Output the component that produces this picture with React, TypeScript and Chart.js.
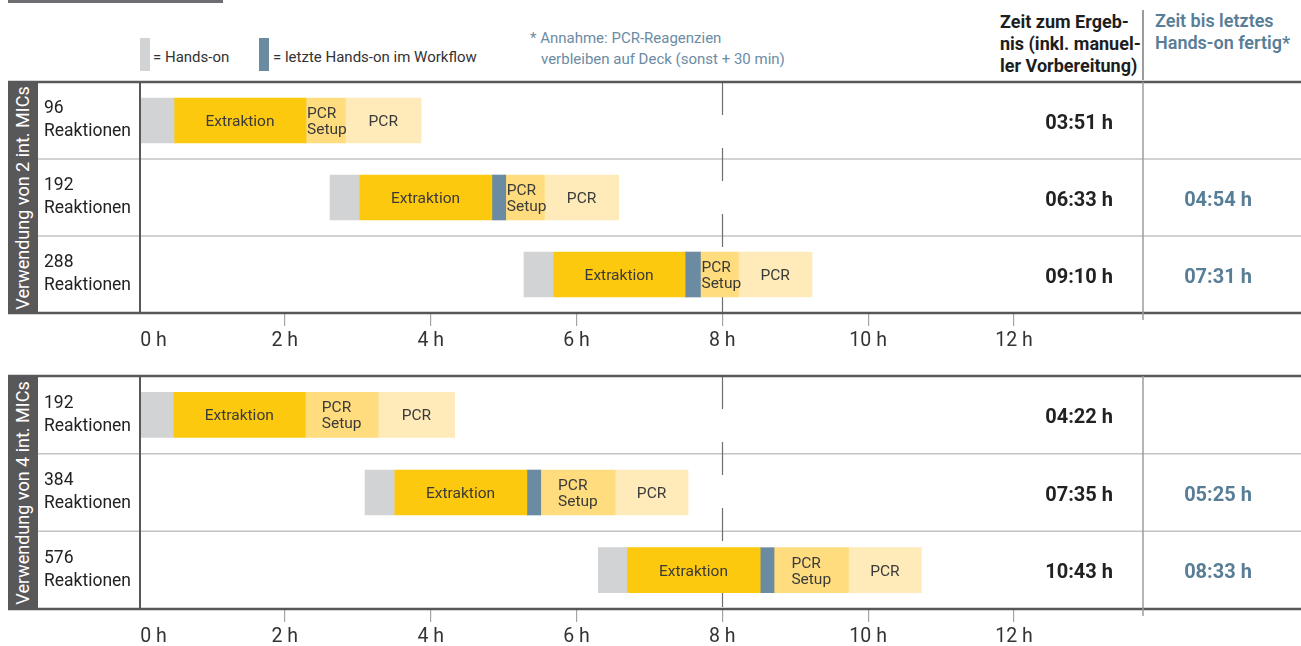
import React, { useEffect, useRef } from 'react';
import { Chart, registerables } from 'chart.js';

Chart.register(...registerables);

const FONT = 'Roboto, "Noto Sans", "DejaVu Sans", sans-serif';

// ---------- data ----------
const xTickLabels = ['      0 h', '2 h', '4 h', '6 h', '8 h', '10 h', '12 h'];
const markerHour = 8;
const xMaxHours = 13.77;

const segmentNames = ['Hands-on', 'Extraktion', 'letzte Hands-on im Workflow', 'PCR Setup', 'PCR'];
const segmentTexts = [[], ['Extraktion'], [], ['PCR', 'Setup'], ['PCR']];
const segmentColors = ['#d1d3d4', '#fdc90e', '#6b8ba3', '#ffdc7e', '#ffebba'];

// Panel 1: 2 int. MICs
const rows2 = [['96', 'Reaktionen'], ['192', 'Reaktionen'], ['288', 'Reaktionen']];
const handsOn2 = [[0, 0.48], [2.62, 3.02], [5.28, 5.68]];
const extraktion2 = [[0.48, 2.29], [3.02, 4.84], [5.68, 7.49]];
const lastHandsOn2 = [null, [4.84, 5.03], [7.49, 7.7]];
const pcrSetup2 = [[2.29, 2.83], [5.03, 5.56], [7.7, 8.22]];
const pcr2 = [[2.83, 3.87], [5.56, 6.58], [8.22, 9.23]];
const result2 = ['03:51 h', '06:33 h', '09:10 h'];
const lastDone2 = ['', '04:54 h', '07:31 h'];

// Panel 2: 4 int. MICs
const rows4 = [['192', 'Reaktionen'], ['384', 'Reaktionen'], ['576', 'Reaktionen']];
const handsOn4 = [[0, 0.47], [3.1, 3.5], [6.3, 6.69]];
const extraktion4 = [[0.47, 2.28], [3.5, 5.32], [6.69, 8.52]];
const lastHandsOn4 = [null, [5.32, 5.51], [8.52, 8.71]];
const pcrSetup4 = [[2.28, 3.28], [5.51, 6.53], [8.71, 9.73]];
const pcr4 = [[3.28, 4.33], [6.53, 7.53], [9.73, 10.73]];
const result4 = ['04:22 h', '07:35 h', '10:43 h'];
const lastDone4 = ['', '05:25 h', '08:33 h'];

// ---------- layout ----------
const CANVAS_LEFT = 8;
const CANVAS_W = 1293;
const AXIS_H = 40;
const DARK = '#58585a';
const BLUE_TEXT = '#587d96';

const framePlugin = {
  id: 'frame',
  beforeDatasetsDraw(chart: any) {
    const { ctx, chartArea: a, scales } = chart;
    const x = scales.x;
    const y = scales.y;
    const n = chart.data.labels.length;
    ctx.save();
    ctx.strokeStyle = '#c3c3c3';
    ctx.lineWidth = 1.5;
    for (let i = 1; i < n; i++) {
      const yy = (y.getPixelForValue(i - 1) + y.getPixelForValue(i)) / 2;
      ctx.beginPath();
      ctx.moveTo(30, yy);
      ctx.lineTo(chart.width, yy);
      ctx.stroke();
    }
    const mx = Math.round(x.getPixelForValue(markerHour)) + 0.5;
    ctx.strokeStyle = '#6f6f6f';
    ctx.lineWidth = 1.2;
    ctx.setLineDash([33, 33]);
    ctx.beginPath();
    ctx.moveTo(mx, a.top);
    ctx.lineTo(mx, a.bottom);
    ctx.stroke();
    ctx.restore();
  },
  afterDatasetsDraw(chart: any) {
    const { ctx, chartArea: a } = chart;
    ctx.save();
    // bar labels
    ctx.font = `15.5px ${FONT}`;
    ctx.fillStyle = '#3a3a3a';
    ctx.textBaseline = 'middle';
    ctx.textAlign = 'left';
    chart.data.datasets.forEach((ds: any, di: number) => {
      const lines = segmentTexts[di];
      if (!lines.length) return;
      const meta = chart.getDatasetMeta(di);
      meta.data.forEach((el: any, j: number) => {
        if (ds.data[j] == null) return;
        const p = el.getProps(['x', 'y', 'base'], true);
        const left = Math.min(p.x, p.base);
        const right = Math.max(p.x, p.base);
        const cx = (left + right) / 2;
        const w = Math.max(...lines.map((l: string) => ctx.measureText(l).width));
        const tx = Math.max(left + 1, cx - w / 2);
        const lh = 16;
        const y0 = p.y - ((lines.length - 1) * lh) / 2;
        lines.forEach((l: string, k: number) => ctx.fillText(l, tx, y0 + k * lh + 1.5));
      });
    });
    // borders
    ctx.strokeStyle = DARK;
    ctx.lineWidth = 2.5;
    ctx.beginPath();
    ctx.moveTo(0, a.top);
    ctx.lineTo(chart.width, a.top);
    ctx.moveTo(0, a.bottom);
    ctx.lineTo(chart.width, a.bottom);
    ctx.stroke();
    ctx.lineWidth = 2;
    ctx.beginPath();
    ctx.moveTo(a.left + 1, a.top);
    ctx.lineTo(a.left + 1, a.bottom);
    ctx.stroke();
    // column separator
    ctx.strokeStyle = '#9c9c9c';
    ctx.lineWidth = 1.5;
    ctx.beginPath();
    ctx.moveTo(a.right, a.top);
    ctx.lineTo(a.right, a.bottom + 7);
    ctx.stroke();
    ctx.restore();
  },
};

type PanelProps = {
  title: string;
  canvasTop: number;
  areaTop: number;
  areaBottom: number;
  rows: string[][];
  series: any[][];
  results: string[];
  lastDone: string[];
};

function Panel({ title, canvasTop, areaTop, areaBottom, rows, series, results, lastDone }: PanelProps) {
  const ref = useRef<HTMLCanvasElement | null>(null);
  const H = areaBottom - canvasTop + AXIS_H;

  useEffect(() => {
    if (!ref.current) return;
    const chart = new Chart(ref.current, {
      type: 'bar',
      data: {
        labels: rows,
        datasets: series.map((d, i) => ({
          label: segmentNames[i],
          data: d,
          backgroundColor: segmentColors[i],
          borderWidth: 0,
        })),
      } as any,
      options: {
        indexAxis: 'y',
        responsive: false,
        animation: false,
        layout: { padding: { left: 36, right: 158, top: areaTop - canvasTop, bottom: 0 } },
        datasets: { bar: { grouped: false, barThickness: 45 } } as any,
        plugins: { legend: { display: false }, tooltip: { enabled: false } },
        scales: {
          x: {
            type: 'linear',
            position: 'bottom',
            min: 0,
            max: xMaxHours,
            ticks: {
              stepSize: 2,
              includeBounds: false,
              autoSkip: false,
              maxRotation: 0,
              padding: 3,
              color: '#333',
              font: { family: FONT, size: 19.5 },
              callback: (v: any) => xTickLabels[Math.round(Number(v) / 2)] ?? '',
            },
            grid: {
              drawOnChartArea: false,
              drawTicks: true,
              tickLength: 13,
              lineWidth: 1.2,
              color: (c: any) => (c.tick && c.tick.value === 0 ? 'rgba(0,0,0,0)' : '#a5a5a5'),
            },
            border: { display: false },
            afterFit: (s: any) => {
              s.height = AXIS_H;
              s.paddingLeft = 0;
              s.paddingRight = 0;
            },
          },
          y: {
            type: 'category',
            offset: true,
            grid: { display: false },
            border: { display: false },
            ticks: {
              crossAlign: 'far',
              color: '#222',
              padding: 0,
              font: { family: FONT, size: 17.5, lineHeight: 1.32 },
            },
            afterFit: (s: any) => {
              s.width = 95;
              s.paddingTop = 0;
              s.paddingBottom = 0;
            },
          },
        },
      } as any,
      plugins: [framePlugin],
    });
    return () => chart.destroy();
  }, []);

  const rowH = (areaBottom - areaTop) / rows.length;

  return (
    <>
      <canvas
        ref={ref}
        width={CANVAS_W}
        height={H}
        style={{ position: 'absolute', left: CANVAS_LEFT, top: canvasTop, width: CANVAS_W, height: H }}
      />
      <div
        style={{
          position: 'absolute',
          left: 8,
          top: areaTop - 1,
          width: 30,
          height: areaBottom - areaTop + 2,
          background: DARK,
          display: 'flex',
          alignItems: 'center',
          justifyContent: 'center',
          overflow: 'visible',
        }}
      >
        <div style={{ transform: 'rotate(-90deg)', whiteSpace: 'nowrap', color: '#fff', fontSize: 18, lineHeight: '20px' }}>
          {title}
        </div>
      </div>
      {results.map((r, i) => {
        const cy = areaTop + rowH * (i + 0.5) + 1;
        return (
          <React.Fragment key={i}>
            <div
              style={{
                position: 'absolute',
                left: 900,
                width: 213,
                top: cy - 12,
                lineHeight: '24px',
                textAlign: 'right',
                fontSize: 20,
                fontWeight: 700,
                color: '#222',
                whiteSpace: 'nowrap',
              }}
            >
              {r}
            </div>
            {lastDone[i] ? (
              <div
                style={{
                  position: 'absolute',
                  left: 1143,
                  width: 150,
                  top: cy - 12,
                  lineHeight: '24px',
                  textAlign: 'center',
                  fontSize: 20,
                  fontWeight: 700,
                  color: BLUE_TEXT,
                  whiteSpace: 'nowrap',
                }}
              >
                {lastDone[i]}
              </div>
            ) : null}
          </React.Fragment>
        );
      })}
    </>
  );
}

const abs = (l: number, cy: number, lh: number, extra: any = {}) => ({
  position: 'absolute' as const,
  left: l,
  top: cy - lh / 2,
  lineHeight: `${lh}px`,
  whiteSpace: 'nowrap' as const,
  ...extra,
});

export default function App() {
  return (
    <div
      style={{
        position: 'fixed',
        left: 0,
        top: 0,
        width: 1301,
        height: 646,
        overflow: 'hidden',
        background: '#fff',
        fontFamily: FONT,
      }}
    >
      <div style={{ position: 'absolute', left: 8, top: 0, width: 215, height: 3, background: '#6d6e71' }} />

      {/* legend */}
      <div style={{ position: 'absolute', left: 140, top: 38, width: 10, height: 33, background: segmentColors[0] }} />
      <div style={abs(153, 57, 20, { fontSize: 15, color: '#333' })}>= Hands-on</div>
      <div style={{ position: 'absolute', left: 259, top: 38, width: 10, height: 33, background: segmentColors[2] }} />
      <div style={abs(273, 57, 20, { fontSize: 15, color: '#333' })}>= letzte Hands-on im Workflow</div>

      {/* note */}
      <div style={abs(530, 38, 20, { fontSize: 15, color: '#6b8ca4' })}>* Annahme: PCR-Reagenzien</div>
      <div style={abs(541, 59, 20, { fontSize: 15, color: '#6b8ca4' })}>verbleiben auf Deck (sonst + 30 min)</div>

      {/* column headers */}
      <div style={abs(1000, 22, 22, { fontSize: 18, fontWeight: 700, color: '#1e1e1e' })}>Zeit zum Ergeb-</div>
      <div style={abs(1000, 44, 22, { fontSize: 18, fontWeight: 700, color: '#1e1e1e' })}>nis (inkl. manuel-</div>
      <div style={abs(1000, 66, 22, { fontSize: 18, fontWeight: 700, color: '#1e1e1e' })}>ler Vorbereitung)</div>
      <div style={{ position: 'absolute', left: 1142, top: 10, width: 1.5, height: 70, background: '#9c9c9c' }} />
      <div style={abs(1155, 21, 22, { fontSize: 18, fontWeight: 600, color: BLUE_TEXT })}>Zeit bis letztes</div>
      <div style={abs(1155, 43, 22, { fontSize: 18, fontWeight: 600, color: BLUE_TEXT })}>Hands-on fertig*</div>

      <Panel
        title="Verwendung von 2 int. MICs"
        canvasTop={78}
        areaTop={82}
        areaBottom={313}
        rows={rows2}
        series={[handsOn2, extraktion2, lastHandsOn2, pcrSetup2, pcr2]}
        results={result2}
        lastDone={lastDone2}
      />
      <Panel
        title="Verwendung von 4 int. MICs"
        canvasTop={372}
        areaTop={376}
        areaBottom={609}
        rows={rows4}
        series={[handsOn4, extraktion4, lastHandsOn4, pcrSetup4, pcr4]}
        results={result4}
        lastDone={lastDone4}
      />
    </div>
  );
}
